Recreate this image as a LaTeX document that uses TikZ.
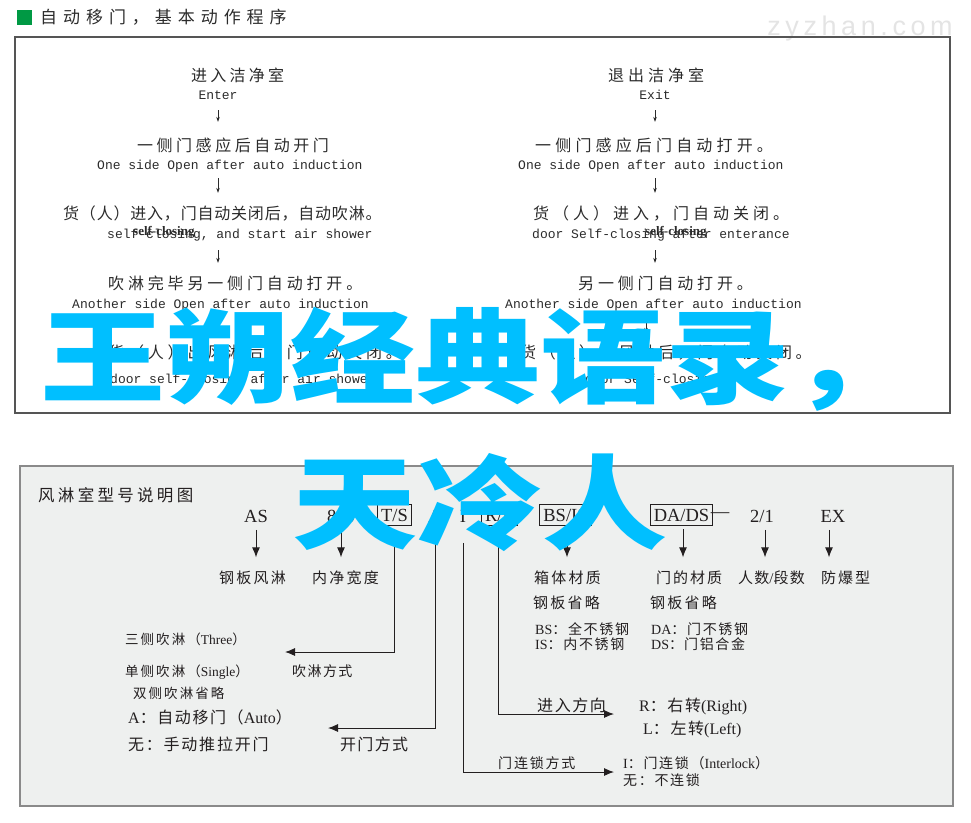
\documentclass[tikz,border=0pt]{standalone}
\usepackage{fontspec}
\usepackage{graphicx}
\setmainfont{Liberation Serif}
\newfontfamily\cjk{Noto Sans CJK SC}
\newfontfamily\mono{Liberation Mono}
\newfontfamily\wmfont{Liberation Sans}
\usetikzlibrary{arrows.meta}
\definecolor{ink}{HTML}{231F20}
\definecolor{topink}{HTML}{2B2B2B}
\definecolor{frame}{HTML}{555555}
\definecolor{panelbg}{HTML}{EEF0EF}
\definecolor{panelframe}{HTML}{8A8A8A}
\definecolor{wcyan}{HTML}{00BFFF}
\definecolor{wgray}{HTML}{E4E4E4}
\definecolor{hgreen}{HTML}{009944}
\newcommand\cjf[2]{\cjk\fontsize{#1}{#1}\selectfont\addfontfeature{LetterSpace=#2}}
\newcommand\lat[1]{\fontsize{#1}{#1}\selectfont}
\newcommand\mon[1]{\mono\fontsize{#1}{#1}\selectfont}
\begin{document}
\begin{tikzpicture}[x=1pt,y=-1pt,
  tx/.style={inner sep=0pt, text=ink},
  tl/.style={tx, anchor=west},
  ttop/.style={inner sep=0pt, text=topink, anchor=west},
  tcj/.style={ttop, text height=14pt, text depth=2pt},
  ten/.style={ttop, text height=9pt, text depth=3pt},
  codetxt/.style={tx, font=\lat{18.5}, text height=12.5pt, text depth=0pt, inner xsep=3.5pt, inner ysep=4.5pt},
  boxcode/.style={codetxt, draw=ink, line width=0.9pt},
  lbl/.style={tl, text height=13pt, text depth=2pt},
  tarr/.style={draw=topink, line width=0.6pt, -{Stealth[length=5pt,width=3.6pt]}},
  darr/.style={draw=ink, line width=0.9pt, -{Latex[length=10pt,width=8pt]}},
  leg/.style={draw=ink, line width=0.9pt, -{Latex[length=10pt,width=8pt]}},
  bigtxt/.style={anchor=base west, inner sep=0pt, text=wcyan, font={\cjk\bfseries\fontsize{125}{125}\selectfont}}
]
\useasboundingbox (0,0) rectangle (971,822);

% ---------- header ----------
\fill[hgreen] (17,10) rectangle (32,25);
\node[tl, text=topink, font=\cjf{17}{35}] (hdr) at (40,17) {自动移门，基本动作程序};
\node[inner sep=0pt, text=wgray, font={\wmfont\fontsize{27}{27}\selectfont\addfontfeature{LetterSpace=17}}] (wm) at (860,29) {zyzhan.com};

% ---------- top panel ----------
\draw[frame, line width=1.2pt] (15,37) rectangle (950,413);

% left column
\node[tcj, font=\cjf{16}{20}] (l1) at (191,75) {进入洁净室};
\node[ten, font=\mon{13}, anchor=center] (l1e) at (218,96) {Enter};
\node[tcj, font=\cjf{16}{22}] (l2) at (137,145) {一侧门感应后自动开门};
\node[ten, font=\mon{13}] (l2e) at (97,166) {One side Open after auto induction};
\node[tcj, font=\cjf{16}{5}] (l3) at (63,213) {货（人）进入，门自动关闭后，自动吹淋。};
\node[ten, font=\mon{13}] (l3e) at (107,235) {self-closing, and start air shower};
\node[ttop, font=\bfseries\lat{13}] (l3o) at (133,232) {self-closing};
\node[tcj, font=\cjf{16}{24}] (l4) at (108,283) {吹淋完毕另一侧门自动打开。};
\node[ten, font=\mon{13}] (l4e) at (72,305) {Another side Open after auto induction};
\node[tcj, font=\cjf{16}{24}] (l5) at (108,352) {货（人）出风淋后，门自动关闭。};
\node[ten, font=\mon{13}] (l5e) at (110,380) {door self-closing after air shower};

\coordinate (lx) at (218,0);
\draw[tarr, shorten <=8pt, shorten >=15pt] (lx |- l1e.south) -- (lx |- l2.north);
\draw[tarr, shorten <=6pt, shorten >=12pt] (lx |- l2e.south) -- (lx |- l3.north);
\draw[tarr, shorten <=9pt, shorten >=12pt] (lx |- l3e.south) -- (lx |- l4.north);
\draw[tarr, shorten <=9pt, shorten >=11pt] (lx |- l4e.south) -- (lx |- l5.north);

% right column
\node[tcj, font=\cjf{16}{25}] (r1) at (608,75) {退出洁净室};
\node[ten, font=\mon{13}, anchor=center] (r1e) at (655,96) {Exit};
\node[tcj, font=\cjf{16}{26}] (r2) at (535,145) {一侧门感应后门自动打开。};
\node[ten, font=\mon{13}] (r2e) at (518,166) {One side Open after auto induction};
\node[tcj, font=\cjf{16}{25}] (r3) at (533,213) {货（人）进入，门自动关闭。};
\node[ten, font=\mon{13}] (r3e) at (532,235) {door Self-closing after enterance};
\node[ttop, font=\bfseries\lat{13}] (r3o) at (645,232) {self-closing};
\node[tcj, font=\cjf{16}{24}] (r4) at (578,283) {另一侧门自动打开。};
\node[ten, font=\mon{13}] (r4e) at (505,305) {Another side Open after auto induction};
\node[tcj, font=\cjf{16}{23}] (r5) at (520,352) {货（人）出风淋后，门自动关闭。};
\node[ten, font=\mon{13}] (r5e) at (585,380) {door Self-closing};

\coordinate (rx) at (655,0);
\coordinate (rx2) at (646,0);
\draw[tarr, shorten <=8pt, shorten >=15pt] (rx |- r1e.south) -- (rx |- r2.north);
\draw[tarr, shorten <=6pt, shorten >=12pt] (rx |- r2e.south) -- (rx |- r3.north);
\draw[tarr, shorten <=9pt, shorten >=12pt] (rx |- r3e.south) -- (rx |- r4.north);
\draw[tarr, shorten <=9pt, shorten >=11pt] (rx2 |- r4e.south) -- (rx2 |- r5.north);

% ---------- bottom panel ----------
\draw[panelframe, fill=panelbg, line width=1.6pt] (20,466) rectangle (953,806);
\node[tl, font=\cjf{16.5}{20}] (ttl) at (38,495) {风淋室型号说明图};

% code row
\node[codetxt] (as) at (256,516) {AS};
\node[codetxt] (c800) at (341,516) {800};
\node[boxcode] (ts) at (394.5,515) {T/S};
\node[codetxt] (ca) at (435,516) {A};
\node[codetxt] (ci) at (463,516) {I};
\node[boxcode] (rl) at (499.5,515) {R/L};
\node[boxcode] (bsis) at (565.5,515) {BS/IS};
\node[boxcode] (dads) at (681.5,515) {DA/DS};
\node[tx, font=\lat{18.5}] (dash) at (720,515) {—};
\node[codetxt] (two) at (762,516) {2/1};
\node[codetxt] (ex) at (833,516) {EX};

% labels
\node[lbl, font=\cjf{15}{15}] (asl) at (219,578) {钢板风淋};
\node[lbl, font=\cjf{15}{15}] (c800l) at (312,578) {内净宽度};
\node[lbl, font=\cjf{15}{15}] (bsl) at (534,578) {箱体材质};
\node[lbl, font=\cjf{15}{13}] (dal) at (656,578) {门的材质};
\node[lbl, font=\cjf{15}{8}] (twol) at (738,578) {人数{\lat{15}\rmfamily /}段数};
\node[lbl, font=\cjf{15}{13}] (exl) at (821,578) {防爆型};
\node[lbl, font=\cjf{15}{15}] (bsl2) at (533,603) {钢板省略};
\node[lbl, font=\cjf{15}{15}] (dal2) at (650,603) {钢板省略};
\node[lbl] (bs1) at (535,629) {{\lat{14}BS}{\cjf{14}{12}：全不锈钢}};
\node[lbl] (bs2) at (535,644) {{\lat{14}IS}{\cjf{14}{12}：内不锈钢}};
\node[lbl] (da1) at (651,629) {{\lat{14}DA}{\cjf{14}{12}：门不锈钢}};
\node[lbl] (da2) at (651,644) {{\lat{14}DS}{\cjf{14}{12}：\hspace{1pt}门铝合金}};

% down arrows
\draw[darr, shorten <=3pt, shorten >=13pt] (as.south) -- (as.south |- asl.north);
\draw[darr, shorten <=3pt, shorten >=13pt] (c800.south) -- (c800.south |- c800l.north);
\draw[darr, shorten <=3pt, shorten >=13pt] ([xshift=1.5pt]bsis.south) -- ([xshift=1.5pt]bsis.south |- bsl.north);
\draw[darr, shorten <=3pt, shorten >=13pt] ([xshift=1.5pt]dads.south) -- ([xshift=1.5pt]dads.south |- dal.north);
\draw[darr, shorten <=3pt, shorten >=13pt] ([xshift=3pt]two.south) -- ([xshift=3pt]two.south |- twol.north);
\draw[darr, shorten <=3pt, shorten >=13pt] ([xshift=-4pt]ex.south) -- ([xshift=-4pt]ex.south |- exl.north);

% left legend texts
\node[lbl] (three) at (125,639) {{\cjf{13.5}{15}三侧吹淋（}{\lat{13.5}Three}{\cjf{13.5}{15}）}};
\node[lbl] (single) at (125,671) {{\cjf{13.5}{15}单侧吹淋（}{\lat{13.5}Single}{\cjf{13.5}{15}）}};
\node[lbl, font=\cjf{14}{10}] (blow) at (292,671) {吹淋方式};
\node[lbl, font=\cjf{13.5}{15}] (double) at (133,693) {双侧吹淋省略};
\node[lbl] (auto) at (128,718) {{\lat{16}A}{\cjf{16}{10}：自动移门（}{\lat{16}Auto}{\cjf{16}{10}）}};
\node[lbl, font=\cjf{16}{11}] (manual) at (128,745) {无：手动推拉开门};
\node[lbl, font=\cjf{16}{8}] (openway) at (340,745) {开门方式};

% right legend texts
\node[lbl, font=\cjf{16}{10}] (dir) at (537,706) {进入方向};
\node[lbl] (rgt) at (639,706) {{\lat{16}R}{\cjf{16}{10}：右转}{\lat{16}(Right)}};
\node[lbl] (lft) at (643,729) {{\lat{16}L}{\cjf{16}{10}：左转}{\lat{16}(Left)}};
\node[lbl, font=\cjf{14}{13}] (lockway) at (498,763) {门连锁方式};
\node[lbl] (inter) at (623,763) {{\lat{14}I}{\cjf{14}{12}：门连锁（}{\lat{14}Interlock}{\cjf{14}{12}）}};
\node[lbl, font=\cjf{14}{12}] (nolock) at (623,780) {无：不连锁};

% legend connectors
\coordinate (blowend) at (285,652);
\coordinate (openend) at (328,728);
\coordinate (dirend) at (614,714);
\coordinate (lockend) at (614,772);
\draw[leg, shorten <=11pt] (ts.south) |- (blowend);
\draw[leg, shorten <=16pt] (ca.south) |- (openend);
\draw[leg, shorten <=16pt] (ci.south) |- (lockend);
\draw[leg, shorten <=11pt] ([xshift=-1.5pt]rl.south) |- (dirend);

% ---------- cyan overlay text ----------
\node[bigtxt] (big1) at (40,395) {\scalebox{1}[0.82]{王朔经典语录，}};
\node[bigtxt] (big2) at (292,541) {\scalebox{1}[0.82]{天冷人}};
\end{tikzpicture}
\end{document}
